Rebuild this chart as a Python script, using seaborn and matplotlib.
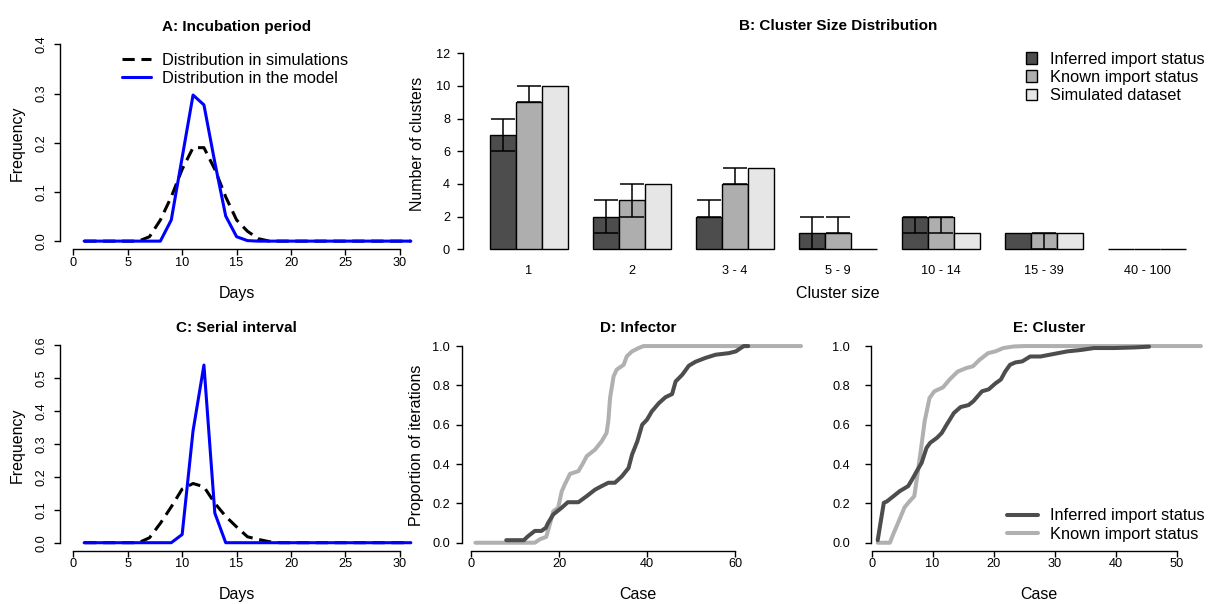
import matplotlib
matplotlib.use("Agg")
import matplotlib.pyplot as plt
import numpy as np
import pandas as pd
import seaborn as sns
from matplotlib.lines import Line2D
from matplotlib.patches import Patch

# ---------------------------------------------------------------- data
days = list(range(1, 32))

incubation_sim = [0, 0, 0, 0, 0, 0, 0.009, 0.043, 0.09, 0.146, 0.19, 0.19, 0.146, 0.09,
                  0.043, 0.02, 0.005, 0, 0, 0, 0, 0, 0, 0, 0, 0, 0, 0, 0, 0, 0]
incubation_model = [0, 0, 0, 0, 0, 0, 0, 0, 0.043, 0.17, 0.297, 0.277, 0.16, 0.051,
                    0.009, 0.001, 0, 0, 0, 0, 0, 0, 0, 0, 0, 0, 0, 0, 0, 0, 0]

serial_sim = [0, 0, 0, 0, 0, 0, 0.015, 0.059, 0.109, 0.163, 0.18, 0.17, 0.12, 0.08,
              0.048, 0.018, 0.01, 0.003, 0, 0, 0, 0, 0, 0, 0, 0, 0, 0, 0, 0, 0]
serial_model = [0, 0, 0, 0, 0, 0, 0, 0, 0, 0.025, 0.34, 0.54, 0.09, 0, 0, 0, 0, 0, 0,
                0, 0, 0, 0, 0, 0, 0, 0, 0, 0, 0, 0]

size_classes = ["1", "2", "3 - 4", "5 - 9", "10 - 14", "15 - 39", "40 - 100"]
status_levels = ["Inferred import status", "Known import status", "Simulated dataset"]
clusters_inferred = [7, 2, 2, 1, 2, 1, 0]
clusters_known = [9, 3, 4, 1, 2, 1, 0]
clusters_simulated = [10, 4, 5, 0, 1, 1, 0]
inferred_low = [6, 1, 2, 0, 1, 1, 0]
inferred_high = [8, 3, 3, 2, 2, 1, 0]
known_low = [9, 2, 4, 1, 1, 0, 0]
known_high = [10, 4, 5, 2, 2, 1, 0]

infector_inferred_case = [8, 12, 13, 14.5, 16, 17, 17.5, 18.7, 20.6, 22, 24.4, 26.3, 28.2,
                          29.7, 31.2, 32.7, 34.3, 35.8, 36.6, 37.8, 38.9, 40, 41.1, 42.7,
                          44.2, 45.7, 46.5, 48, 49.5, 51, 53.3, 55.6, 58.6, 60.2, 61.3, 62, 63]
infector_inferred_prop = [0.013, 0.013, 0.034, 0.06, 0.06, 0.076, 0.10, 0.144, 0.178, 0.206,
                          0.206, 0.237, 0.27, 0.288, 0.305, 0.305, 0.338, 0.38, 0.448, 0.516,
                          0.6, 0.626, 0.668, 0.71, 0.74, 0.756, 0.82, 0.854, 0.9, 0.92, 0.94,
                          0.956, 0.964, 0.973, 0.99, 1.0, 1.0]
infector_known_case = [1, 14.5, 15.6, 17.1, 17.9, 18.7, 19.8, 20.6, 21.3, 22.5, 24.4, 25.5,
                       26.3, 28.2, 29.7, 30.8, 31.2, 31.6, 32.4, 33.1, 34.7, 35.4, 36.6,
                       38.1, 39.2, 75]
infector_known_prop = [0, 0, 0.017, 0.03, 0.093, 0.16, 0.178, 0.26, 0.296, 0.35, 0.364,
                       0.406, 0.44, 0.474, 0.516, 0.558, 0.618, 0.736, 0.846, 0.88, 0.905,
                       0.948, 0.973, 0.99, 1.0, 1.0]

cluster_inferred_case = [1, 2, 2.5, 3.6, 4.6, 6, 6.8, 7.4, 8.2, 9, 9.6, 10.7, 11.5, 12.3,
                         13.5, 14.6, 15.9, 16.7, 18.1, 19.2, 20.3, 21.2, 21.9, 22.7, 23.6,
                         24.7, 26, 27.7, 29.9, 32.1, 34.3, 36.5, 39.8, 43.1, 45.5]
cluster_inferred_prop = [0.013, 0.203, 0.21, 0.237, 0.262, 0.288, 0.33, 0.364, 0.406, 0.482,
                         0.508, 0.533, 0.558, 0.60, 0.66, 0.69, 0.70, 0.72, 0.77, 0.78, 0.81,
                         0.83, 0.87, 0.905, 0.917, 0.922, 0.947, 0.947, 0.96, 0.973, 0.98,
                         0.99, 0.99, 0.993, 0.997]
cluster_known_case = [1, 3, 3.5, 4.6, 5.4, 6.2, 7.0, 7.6, 8.2, 8.7, 9.5, 10.3, 11.7, 12.8,
                      14.1, 15.5, 16.6, 17.7, 19.1, 20.3, 21.6, 23.3, 25, 54]
cluster_known_prop = [0, 0, 0.04, 0.12, 0.18, 0.21, 0.237, 0.364, 0.5, 0.618, 0.736, 0.77,
                      0.79, 0.83, 0.87, 0.888, 0.897, 0.93, 0.964, 0.973, 0.99, 0.998, 1.0, 1.0]

# ---------------------------------------------------------------- style
W, H, DPI = 1209, 604, 100
BAR_COLORS = ["#4d4d4d", "#aeaeae", "#e6e6e6"]
DARK, LIGHT = "#4d4d4d", "#b0b0b0"
BLUE = "#0000ff"
TICK_FS, LABEL_FS, TITLE_FS, LEGEND_FS = 9.2, 11.5, 11, 11.8

sns.set_theme(style="ticks", rc={
    "axes.edgecolor": "black", "axes.linewidth": 1.0,
    "xtick.color": "black", "ytick.color": "black",
    "xtick.major.size": 4, "ytick.major.size": 4,
    "xtick.major.width": 1.0, "ytick.major.width": 1.0,
    "text.color": "black", "axes.labelcolor": "black",
})
plt.rcParams["font.family"] = ["Liberation Sans", "DejaVu Sans"]

fig = plt.figure(figsize=(W / DPI, H / DPI), dpi=DPI)
fig.patch.set_facecolor("white")


def add_axes_px(box):
    left, top, right, bottom = box
    return fig.add_axes([left / W, 1 - bottom / H, (right - left) / W, (bottom - top) / H])


def decorate(ax, box, xticks, yticks, yfmt, title, title_y, xlabel, xlab_y,
             ylabel=None, ylab_x=None, ylab_y=None, rotate_y=True, ypad=5.0,
             xpad=1.5, title_x=None, bottom_axis=True):
    left, top, right, bottom = box
    w, h = right - left, bottom - top
    sns.despine(ax=ax)
    ax.set_facecolor("white")
    ax.grid(False)
    ax.set_yticks(yticks)
    ax.set_yticklabels([yfmt.format(v) for v in yticks])
    ax.spines["left"].set_bounds(yticks[0], yticks[-1])
    if bottom_axis:
        ax.set_xticks(xticks)
        ax.set_xticklabels([str(v) for v in xticks])
        ax.spines["bottom"].set_bounds(xticks[0], xticks[-1])
    ax.tick_params(axis="x", labelsize=TICK_FS, pad=xpad)
    ax.tick_params(axis="y", labelsize=TICK_FS, pad=ypad)
    if rotate_y:
        ax.tick_params(axis="y", labelrotation=90)
        for lab in ax.get_yticklabels():
            lab.set_va("center")
    cx = (left + right) / 2 if title_x is None else title_x
    ax.set_title(title, fontsize=TITLE_FS, fontweight="bold", x=(cx - left) / w,
                 y=(bottom - title_y) / h, va="center", pad=0)
    ax.set_xlabel(xlabel, fontsize=LABEL_FS)
    ax.xaxis.set_label_coords(0.5, -(xlab_y - bottom) / h)
    ax.xaxis.label.set_va("center")
    if ylabel is not None:
        ax.set_ylabel(ylabel, fontsize=LABEL_FS)
        ax.yaxis.set_label_coords(-(left - ylab_x) / w, (bottom - ylab_y) / h)
        ax.yaxis.label.set_va("center")
        ax.yaxis.label.set_ha("center")
    else:
        ax.set_ylabel("")


def legend_at(handles, labels, left_px, top_px, **kw):
    fig.legend(handles, labels, loc="upper left",
               bbox_to_anchor=(left_px / W, 1 - top_px / H),
               bbox_transform=fig.transFigure, frameon=False, borderpad=0,
               borderaxespad=0, fontsize=LEGEND_FS, **kw)


DASH = (0, (4, 2.2))

# ---------------------------------------------------------------- A: incubation period
boxA = (60.2, 36.5, 413, 249)
axA = add_axes_px(boxA)
sns.lineplot(x=days, y=incubation_sim, ax=axA, color="black", lw=2.2, linestyle=DASH,
             estimator=None)
sns.lineplot(x=days, y=incubation_model, ax=axA, color=BLUE, lw=2.2, estimator=None)
axA.set_xlim(-1.2, 31.2)
axA.set_ylim(-0.016, 0.416)
decorate(axA, boxA, [0, 5, 10, 15, 20, 25, 30], [0.0, 0.1, 0.2, 0.3, 0.4], "{:.1f}",
         "A: Incubation period", 27.5, "Days", 293.5, "Frequency", 17.2, 143.5)
legend_at([Line2D([], [], color="black", lw=2.2, linestyle=DASH),
           Line2D([], [], color=BLUE, lw=2.2)],
          ["Distribution in simulations", "Distribution in the model"],
          121.7, 52.8, handlelength=1.8, handletextpad=0.66, labelspacing=0.2)

# ---------------------------------------------------------------- B: cluster size distribution
boxB = (462.6, 36.5, 1213.4, 252)
axB = add_axes_px(boxB)
df_b = pd.DataFrame({
    "size": size_classes * 3,
    "status": np.repeat(status_levels, len(size_classes)),
    "count": clusters_inferred + clusters_known + clusters_simulated,
})
sns.barplot(data=df_b, x="size", y="count", hue="status", order=size_classes,
            hue_order=status_levels, palette=dict(zip(status_levels, BAR_COLORS)),
            width=0.75, saturation=1, edgecolor="black", linewidth=1.0,
            errorbar=None, legend=False, ax=axB)
# interval whiskers; zero-length intervals are not drawn
for cont, vals, lo, hi in zip(axB.containers[:2],
                              [clusters_inferred, clusters_known],
                              [inferred_low, known_low], [inferred_high, known_high]):
    keep = [i for i in range(len(vals)) if hi[i] > lo[i]]
    xs = [cont[i].get_x() + cont[i].get_width() / 2 for i in keep]
    v = np.array([vals[i] for i in keep])
    l = np.array([lo[i] for i in keep])
    u = np.array([hi[i] for i in keep])
    axB.errorbar(xs, v, yerr=[v - l, u - v], fmt="none", ecolor="black",
                 elinewidth=1.1, capsize=8.3, capthick=1.1, zorder=5)
axB.set_xlim(-0.645, 6.645)
axB.set_ylim(-0.165, 13.03)
decorate(axB, boxB, None, [0, 2, 4, 6, 8, 10, 12], "{:d}",
         "B: Cluster Size Distribution", 26.5, "Cluster size", 293.7,
         "Number of clusters", 417.5, 143.5, rotate_y=False, ypad=5.0,
         bottom_axis=False)
axB.spines["bottom"].set_visible(False)
axB.tick_params(axis="x", length=0, pad=9.4)
legend_at([Patch(facecolor=c, edgecolor="black", lw=1.0) for c in BAR_COLORS],
          status_levels, 1025.7, 51.7, handlelength=0.68, handleheight=0.68,
          handletextpad=0.82, labelspacing=0.19)

# ---------------------------------------------------------------- C: serial interval
boxC = (60.2, 337.4, 413, 550.6)
axC = add_axes_px(boxC)
sns.lineplot(x=days, y=serial_sim, ax=axC, color="black", lw=2.2, linestyle=DASH,
             estimator=None)
sns.lineplot(x=days, y=serial_model, ax=axC, color=BLUE, lw=2.2, estimator=None)
axC.set_xlim(-1.2, 31.2)
axC.set_ylim(-0.024, 0.624)
decorate(axC, boxC, [0, 5, 10, 15, 20, 25, 30], [0.0, 0.1, 0.2, 0.3, 0.4, 0.5, 0.6],
         "{:.1f}", "C: Serial interval", 328, "Days", 594.7, "Frequency", 17.2, 445)

# ---------------------------------------------------------------- D: infector
boxD = (462, 338.2, 814, 550.6)
axD = add_axes_px(boxD)
sns.lineplot(x=infector_known_case, y=infector_known_prop, ax=axD, color=LIGHT, lw=2.9,
             estimator=None)
sns.lineplot(x=infector_inferred_case, y=infector_inferred_prop, ax=axD, color=DARK,
             lw=2.9, estimator=None)
axD.set_xlim(-2.05, 77.95)
axD.set_ylim(-0.04, 1.04)
decorate(axD, boxD, [0, 20, 40, 60], [0.0, 0.2, 0.4, 0.6, 0.8, 1.0], "{:.1f}",
         "D: Infector", 328, "Case", 594.7, "Proportion of iterations", 416, 445,
         rotate_y=False, ypad=4.6)

# ---------------------------------------------------------------- E: cluster
boxE = (871, 338.2, 1207, 550.6)
axE = add_axes_px(boxE)
sns.lineplot(x=cluster_known_case, y=cluster_known_prop, ax=axE, color=LIGHT, lw=2.9,
             estimator=None)
sns.lineplot(x=cluster_inferred_case, y=cluster_inferred_prop, ax=axE, color=DARK,
             lw=2.9, estimator=None)
axE.set_xlim(-0.1, 55.0)
axE.set_ylim(-0.04, 1.04)
decorate(axE, boxE, [0, 10, 20, 30, 40, 50], [0.0, 0.2, 0.4, 0.6, 0.8, 1.0], "{:.1f}",
         "E: Cluster", 328, "Case", 594.7, rotate_y=False, ypad=11.0, title_x=1049)
legend_at([Line2D([], [], color=DARK, lw=2.9), Line2D([], [], color=LIGHT, lw=2.9)],
          ["Inferred import status", "Known import status"], 1006.7, 508.3,
          handlelength=1.9, handletextpad=0.72, labelspacing=0.2)

fig.savefig("out.png", dpi=DPI, facecolor="white")
